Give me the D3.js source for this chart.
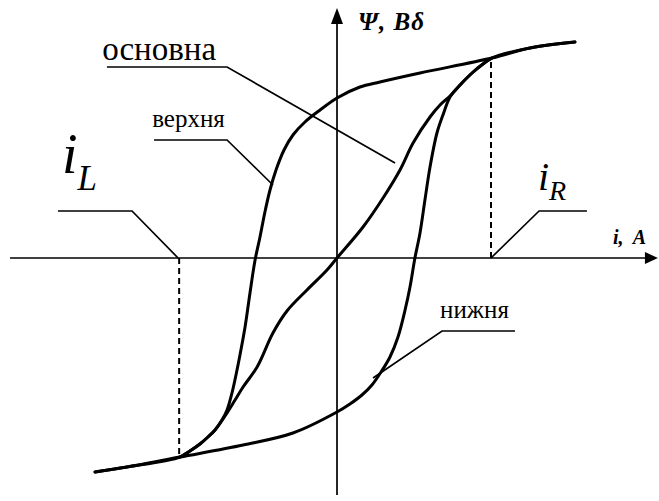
<!DOCTYPE html>
<html>
<head>
<meta charset="utf-8">
<script src="https://cdn.jsdelivr.net/npm/d3@7"></script>
<style>
  html, body { margin: 0; padding: 0; background: #fff; }
  svg { display: block; }
  text { font-family: "Liberation Serif", "Times New Roman", serif; fill: #000; }
</style>
</head>
<body>
<svg id="chart" width="659" height="501"></svg>
<script>
// Hysteresis loop: flux linkage Ψ versus current i (normalised so i_R = 1, Ψ_sat = 1)

// Upper (descending) branch, left tail to right tail
const upperI   = [-1.571, -1.364, -1.019, -0.955, -0.890, -0.838, -0.792, -0.747, -0.714, -0.682, -0.656, -0.630, -0.597, -0.565, -0.532, -0.500, -0.468, -0.435, -0.396, -0.344, -0.286, -0.208, -0.110, 0.000, 0.149, 0.279, 0.539, 1.006, 1.253, 1.545];
const upperPsi = [-1.070, -1.045, -0.995, -0.965, -0.930, -0.895, -0.860, -0.810, -0.760, -0.675, -0.585, -0.485, -0.345, -0.175, -0.010, 0.105, 0.230, 0.340, 0.440, 0.540, 0.615, 0.680, 0.740, 0.800, 0.855, 0.880, 0.925, 1.000, 1.050, 1.080];

// Lower (ascending) branch, left tail to right tail
const lowerI   = [-1.571, -1.364, -1.019, -0.610, -0.286, 0.000, 0.084, 0.162, 0.227, 0.286, 0.344, 0.396, 0.442, 0.474, 0.506, 0.539, 0.571, 0.604, 0.649, 0.688, 0.734, 0.799, 0.877, 0.948, 1.006, 1.253, 1.545];
const lowerPsi = [-1.070, -1.045, -0.995, -0.935, -0.875, -0.770, -0.730, -0.685, -0.635, -0.570, -0.495, -0.395, -0.260, -0.145, 0.000, 0.125, 0.290, 0.455, 0.625, 0.715, 0.805, 0.865, 0.925, 0.970, 1.000, 1.050, 1.080];

// Basic (initial) magnetisation curve
const basicI   = [-1.019, -0.955, -0.890, -0.838, -0.792, -0.727, -0.662, -0.610, -0.519, -0.416, -0.325, -0.195, -0.065, 0.000, 0.169, 0.299, 0.409, 0.494, 0.604, 0.669, 0.734, 0.799, 0.877, 0.948, 1.006];
const basicPsi = [-0.995, -0.965, -0.930, -0.895, -0.860, -0.790, -0.710, -0.645, -0.545, -0.375, -0.265, -0.160, -0.060, 0.000, 0.155, 0.300, 0.440, 0.575, 0.705, 0.765, 0.810, 0.865, 0.925, 0.970, 1.000];

// Limit currents and saturation level
const limitI   = [-1.025, 1.000];
const limitPsi = [-0.995, 1.000];

// Callout labels: text, anchor, leader polyline
const calloutText   = ["основна", "верхня", "нижня"];
const calloutTextI  = [-1.525, -1.200, 0.669];
const calloutTextPsi= [0.990, 0.655, -0.300];
const calloutSize   = [33, 25, 25];
const calloutLineI  = [[-1.494, -0.714, 0.377], [-1.188, -0.714, -0.416], [1.156, 0.682, 0.234]];
const calloutLinePsi= [[0.955, 0.955, 0.475], [0.590, 0.590, 0.365], [-0.365, -0.365, -0.600]];

// Limit-current labels
const limitLabelMain = ["i", "i"];
const limitLabelSub  = ["L", "R"];
const limitLabelI    = [-1.786, 1.305];
const limitLabelPsi  = [0.425, 0.340];
const limitLineI     = [[-1.812, -1.331, -1.032], [1.000, 1.312, 1.623]];
const limitLinePsi   = [[0.235, 0.235, 0.000], [0.000, 0.235, 0.235]];

// Axis titles and extents
const xTitle = "i,  A";
const yTitle = "Ψ, Bδ";
const xExtent = [-2.123, 2.084];
const yExtent = [-1.185, 1.250];

const svg = d3.select("#chart");
const x = d3.scaleLinear().domain([-1, 1]).range([183, 491]);
const y = d3.scaleLinear().domain([-1, 1]).range([458, 58]);

const zip = (a, b) => a.map((v, k) => [v, b[k]]);
const line = d3.line().x(d => x(d[0])).y(d => y(d[1]));
const smooth = d3.line().x(d => x(d[0])).y(d => y(d[1])).curve(d3.curveCatmullRom.alpha(0.5));

// Axes with arrowheads
const g = svg.append("g");
g.append("line")
  .attr("x1", x(xExtent[0])).attr("x2", x(xExtent[1]) - 8)
  .attr("y1", y(0)).attr("y2", y(0))
  .attr("stroke", "#000").attr("stroke-width", 1.7);
g.append("line")
  .attr("x1", x(0)).attr("x2", x(0))
  .attr("y1", y(yExtent[0])).attr("y2", y(yExtent[1]) + 8)
  .attr("stroke", "#000").attr("stroke-width", 1.7);
const xt = x(xExtent[1]), yt = y(yExtent[1]);
g.append("path")
  .attr("d", `M${xt},${y(0)} L${xt - 13},${y(0) - 6} L${xt - 13},${y(0) + 6} Z`)
  .attr("fill", "#000");
g.append("path")
  .attr("d", `M${x(0)},${yt} L${x(0) - 6},${yt + 16} L${x(0) + 6},${yt + 16} Z`)
  .attr("fill", "#000");

g.append("text").attr("x", 613).attr("y", 244)
  .attr("font-size", 20).attr("font-weight", "bold").attr("font-style", "italic")
  .attr("xml:space", "preserve").text(xTitle);
g.append("text").attr("x", 358).attr("y", 30)
  .attr("font-size", 25).attr("font-weight", "bold").attr("font-style", "italic")
  .attr("letter-spacing", 1)
  .text(yTitle);

// Dashed limit lines
limitI.forEach((v, k) => {
  svg.append("path")
    .attr("d", line([[v, 0], [v, limitPsi[k]]]))
    .attr("stroke", "#000").attr("stroke-width", 2)
    .attr("stroke-dasharray", "6,4").attr("fill", "none");
});

// Curves
[zip(upperI, upperPsi), zip(lowerI, lowerPsi), zip(basicI, basicPsi)].forEach(pts => {
  svg.append("path")
    .attr("d", smooth(pts))
    .attr("fill", "none").attr("stroke", "#000")
    .attr("stroke-width", 3).attr("stroke-linejoin", "round").attr("stroke-linecap", "round");
});

// Callouts
calloutText.forEach((t, k) => {
  svg.append("path")
    .attr("d", line(zip(calloutLineI[k], calloutLinePsi[k])))
    .attr("fill", "none").attr("stroke", "#000").attr("stroke-width", 1.7);
  svg.append("text")
    .attr("x", x(calloutTextI[k])).attr("y", y(calloutTextPsi[k]))
    .attr("font-size", calloutSize[k]).text(t);
});

// Limit-current labels
const mainSize = [56, 40], subSize = [35, 28], subDy = [17, 10];
limitLabelMain.forEach((t, k) => {
  svg.append("path")
    .attr("d", line(zip(limitLineI[k], limitLinePsi[k])))
    .attr("fill", "none").attr("stroke", "#000").attr("stroke-width", 1.7);
  const txt = svg.append("text")
    .attr("x", x(limitLabelI[k])).attr("y", y(limitLabelPsi[k]))
    .attr("font-style", "italic").attr("font-size", mainSize[k]);
  txt.append("tspan").text(t);
  txt.append("tspan").attr("dy", subDy[k]).attr("font-size", subSize[k]).text(limitLabelSub[k]);
});
</script>
</body>
</html>
